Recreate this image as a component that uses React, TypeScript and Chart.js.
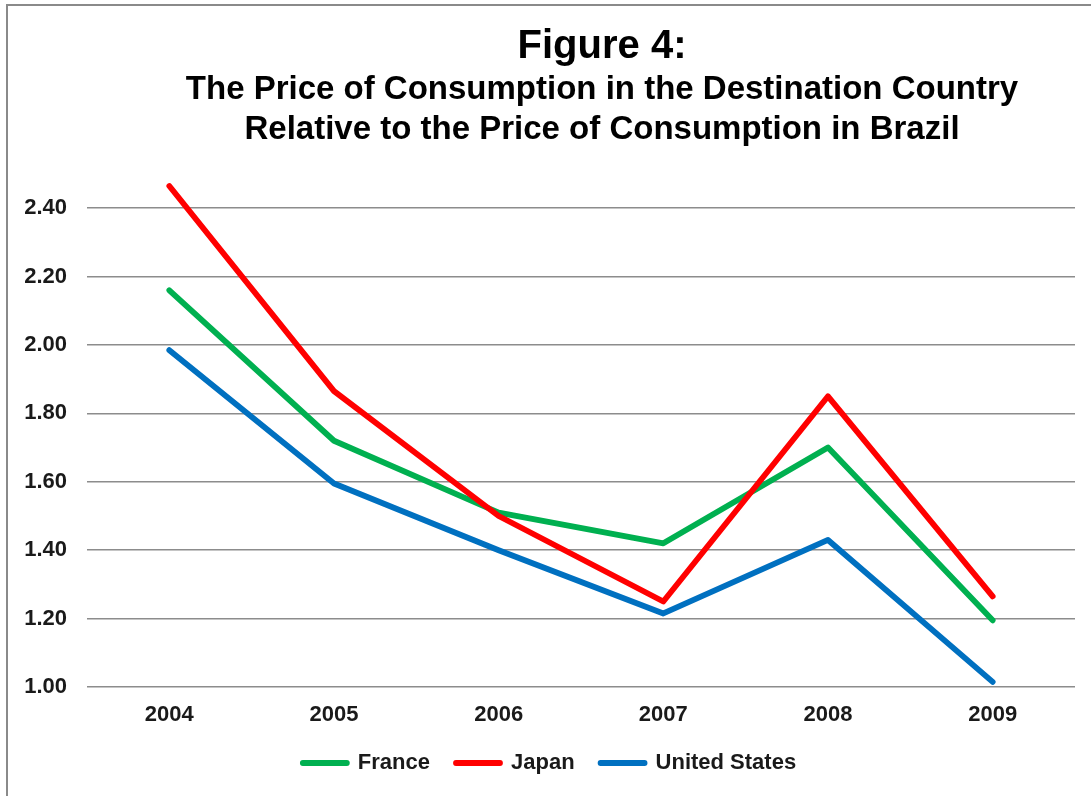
import React, { useEffect, useRef } from "react";
import { Chart, registerables } from "chart.js";

Chart.register(...registerables);

const years = ["2004", "2005", "2006", "2007", "2008", "2009"];
const france = [2.16, 1.72, 1.51, 1.42, 1.7, 1.195];
const japan = [2.465, 1.865, 1.5, 1.25, 1.85, 1.265];
const unitedStates = [1.985, 1.595, 1.4, 1.215, 1.43, 1.015];
const yTicks = [1.0, 1.2, 1.4, 1.6, 1.8, 2.0, 2.2, 2.4];

const titleText = "Figure 4:";
const subtitleLines = [
  "The Price of Consumption in the Destination Country",
  "Relative to the Price of Consumption in Brazil",
];

const FONT = "'Liberation Sans', Arial, sans-serif";
const LINE_W = 5.8;

// Centre the title blocks on the full chart frame (which extends past the picture)
const titleCentering = {
  id: "titleCentering",
  afterLayout(chart: any) {
    for (const b of chart.boxes) {
      if (b && b.position === "top" && b.options && b.options.text !== undefined && !b.axis) {
        b.left = 6;
        b.right = 1198;
        b.width = b.right - b.left;
      }
    }
  },
};

export default function App() {
  const canvasRef = useRef<HTMLCanvasElement | null>(null);

  useEffect(() => {
    if (!canvasRef.current) return;
    const chart = new Chart(canvasRef.current, {
      type: "line",
      data: {
        labels: years,
        datasets: [
          { label: "France", data: france, borderColor: "#00B050", backgroundColor: "#00B050", order: 3 },
          { label: "Japan", data: japan, borderColor: "#FF0000", backgroundColor: "#FF0000", order: 2 },
          { label: "United States", data: unitedStates, borderColor: "#0070C0", backgroundColor: "#0070C0", order: 1 },
        ],
      },
      plugins: [titleCentering],
      options: {
        responsive: false,
        animation: false,
        layout: { padding: { left: 24, right: 16, top: 0, bottom: 12 } },
        elements: {
          line: {
            borderWidth: LINE_W,
            borderCapStyle: "round",
            borderJoinStyle: "round",
            tension: 0,
          },
          point: { radius: 0, hoverRadius: 0 },
        },
        scales: {
          x: {
            offset: true,
            grid: { display: false, drawTicks: false },
            border: { display: false },
            afterFit: (axis: any) => {
              axis.height = 39;
            },
            ticks: {
              padding: 17,
              color: "#1a1a1a",
              font: { family: FONT, size: 22, weight: "bold", lineHeight: 1 },
            },
          },
          y: {
            min: 1,
            max: 2.5,
            afterBuildTicks: (axis: any) => {
              axis.ticks = yTicks.map((v) => ({ value: v }));
            },
            afterFit: (axis: any) => {
              axis.width = 63;
            },
            grid: { color: "#8c8c8c", lineWidth: 1.5, drawTicks: false },
            border: { display: false },
            ticks: {
              padding: 20,
              color: "#1a1a1a",
              font: { family: FONT, size: 22, weight: "bold" },
              callback: (v: any) => Number(v).toFixed(2),
            },
          },
        },
        plugins: {
          legend: {
            position: "bottom",
            labels: {
              usePointStyle: true,
              pointStyle: "line",
              pointStyleWidth: 44,
              padding: 26,
              color: "#1a1a1a",
              font: { family: FONT, size: 22, weight: "bold" },
              sort: (a: any, b: any) => a.datasetIndex - b.datasetIndex,
              generateLabels: (c: any) =>
                (Chart.defaults.plugins.legend.labels.generateLabels as any)(c).map((l: any) => ({
                  ...l,
                  lineWidth: LINE_W,
                  lineCap: "round",
                })),
            },
          },
          title: {
            display: true,
            text: titleText,
            fullSize: false,
            color: "#000",
            font: { family: FONT, size: 40, weight: "bold", lineHeight: 1.15 },
            padding: { top: 24, bottom: 0 },
          },
          subtitle: {
            display: true,
            text: subtitleLines,
            fullSize: false,
            color: "#000",
            font: { family: FONT, size: 33, weight: "bold", lineHeight: 40 / 33 },
            padding: { top: 0, bottom: 24 },
          },
          tooltip: { enabled: false },
        },
      },
    });
    return () => chart.destroy();
  }, []);

  return (
    <div style={{ position: "absolute", left: 0, top: 0, width: 1091, height: 796, overflow: "hidden", background: "#fff" }}>
      <div
        style={{
          position: "absolute",
          left: 6,
          top: 4,
          width: 1085,
          height: 792,
          boxSizing: "border-box",
          borderLeft: "2px solid #8a8a8a",
          borderTop: "2px solid #8a8a8a",
        }}
      />
      <canvas ref={canvasRef} width={1091} height={796} style={{ position: "absolute", left: 0, top: 0 }} />
    </div>
  );
}
